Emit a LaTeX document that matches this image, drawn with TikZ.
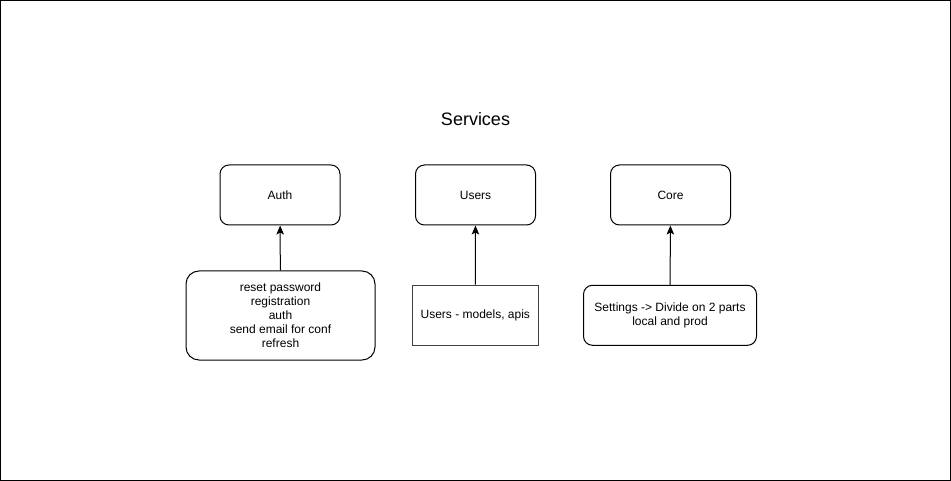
\documentclass[tikz,border=0pt]{standalone}
\usepackage{fontspec}
\setmainfont{Liberation Sans}
\usetikzlibrary{arrows.meta}
\begin{document}
\begin{tikzpicture}[x=1pt,y=-1pt,
  svc/.style={draw=black, line width=1pt, rounded corners=9pt, minimum width=120pt, minimum height=60pt, inner sep=0pt, font=\fontsize{12}{14}\selectfont, align=center},
  sub/.style={draw=black, line width=1pt, inner sep=0pt, font=\fontsize{12}{14}\selectfont, align=center},
  conn/.style={line width=1pt, -{Stealth[length=9pt,width=7.5pt,inset=2pt]}}]
\useasboundingbox (0,0) rectangle (951,481);
\draw[line width=1pt] (0.5,0.5) rectangle (950,480);
\node[font=\fontsize{18}{21}\selectfont] (title) at (475.5,119) {Services};
\node[svc] (auth) at (280,195) {Auth};
\node[svc] (users) at (475.5,195) {Users};
\node[svc] (core) at (670.5,195) {Core};
\node[sub, rounded corners=13pt, minimum width=189pt, minimum height=89pt] (authsub) at (280.5,315.5)
  {reset password\\registration\\auth\\send email for conf\\refresh};
\node[sub, draw=black!75, minimum width=126pt, minimum height=60pt] (userssub) at (475.3,315.2) {Users - models, apis};
\node[sub, rounded corners=9pt, minimum width=173pt, minimum height=60pt] (coresub) at (670,315.3)
  {Settings -> Divide on 2 parts\\local and prod};
\draw[conn] (authsub) -- (auth);
\draw[conn] (userssub) -- (users);
\draw[conn] (coresub) -- (core);
\end{tikzpicture}
\end{document}
